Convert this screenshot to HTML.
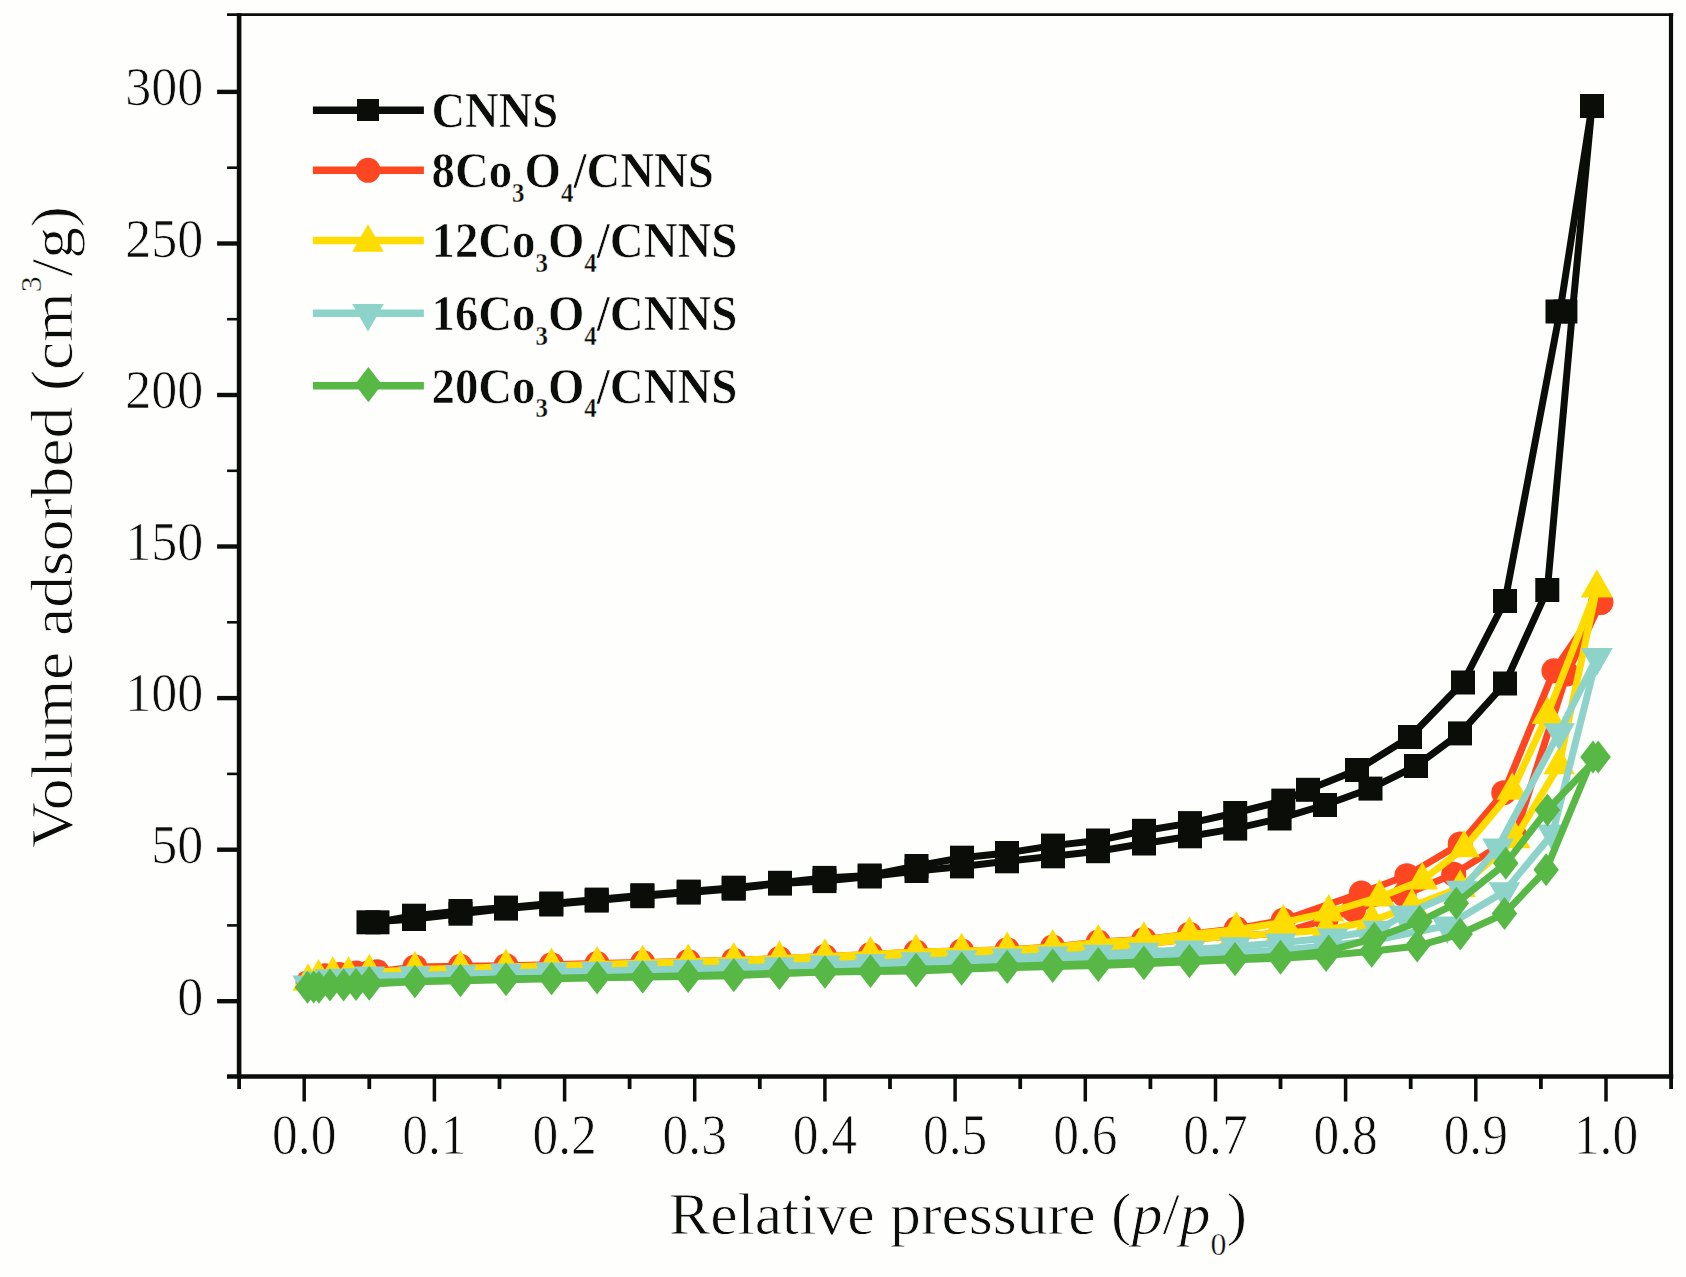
<!DOCTYPE html>
<html><head><meta charset="utf-8"><title>Isotherms</title>
<style>
html,body{margin:0;padding:0;background:#fefefd;}
svg{display:block}
.tk{font-family:'Liberation Serif','Times New Roman',serif;font-size:50px;fill:#0b0d09;stroke:#fefefd;stroke-width:0.7px}
.ti{font-family:'Liberation Serif','Times New Roman',serif;font-size:60px;fill:#0b0d09;stroke:#fefefd;stroke-width:0.8px}
.lg{font-family:'Liberation Serif','Times New Roman',serif;font-size:47px;font-weight:bold;fill:#0b0d09;stroke:#fefefd;stroke-width:0.6px}
.sb{font-size:25px;stroke-width:0.3px}
</style></head><body>
<svg width="1686" height="1277" viewBox="0 0 1686 1277">
<rect width="1686" height="1277" fill="#fefefd"/>
<g id="data">
<polyline points="368.5,922.3 414.0,919.0 460.5,913.7 506.0,908.6 551.3,904.5 596.7,900.6 642.4,896.2 688.7,892.6 733.7,888.7 780.0,883.6 824.5,881.1 869.7,876.5 916.5,871.0 962.0,866.4 1007.0,861.3 1053.0,856.3 1098.0,851.2 1144.0,843.5 1190.0,836.3 1235.2,828.6 1279.6,818.5 1325.0,805.0 1370.5,788.6 1416.0,766.0 1460.0,733.4 1505.0,683.5 1547.3,590.0 1572.5,311.0 1592.0,106.0" fill="none" stroke="#0b0d09" stroke-width="7.0" stroke-linejoin="miter" stroke-miterlimit="3"/>
<rect x="356.5" y="910.3" width="24" height="24" fill="#0b0d09"/>
<rect x="402.0" y="907.0" width="24" height="24" fill="#0b0d09"/>
<rect x="448.5" y="901.7" width="24" height="24" fill="#0b0d09"/>
<rect x="494.0" y="896.6" width="24" height="24" fill="#0b0d09"/>
<rect x="539.3" y="892.5" width="24" height="24" fill="#0b0d09"/>
<rect x="584.7" y="888.6" width="24" height="24" fill="#0b0d09"/>
<rect x="630.4" y="884.2" width="24" height="24" fill="#0b0d09"/>
<rect x="676.7" y="880.6" width="24" height="24" fill="#0b0d09"/>
<rect x="721.7" y="876.7" width="24" height="24" fill="#0b0d09"/>
<rect x="768.0" y="871.6" width="24" height="24" fill="#0b0d09"/>
<rect x="812.5" y="869.1" width="24" height="24" fill="#0b0d09"/>
<rect x="857.7" y="864.5" width="24" height="24" fill="#0b0d09"/>
<rect x="904.5" y="859.0" width="24" height="24" fill="#0b0d09"/>
<rect x="950.0" y="854.4" width="24" height="24" fill="#0b0d09"/>
<rect x="995.0" y="849.3" width="24" height="24" fill="#0b0d09"/>
<rect x="1041.0" y="844.3" width="24" height="24" fill="#0b0d09"/>
<rect x="1086.0" y="839.2" width="24" height="24" fill="#0b0d09"/>
<rect x="1132.0" y="831.5" width="24" height="24" fill="#0b0d09"/>
<rect x="1178.0" y="824.3" width="24" height="24" fill="#0b0d09"/>
<rect x="1223.2" y="816.6" width="24" height="24" fill="#0b0d09"/>
<rect x="1267.6" y="806.5" width="24" height="24" fill="#0b0d09"/>
<rect x="1313.0" y="793.0" width="24" height="24" fill="#0b0d09"/>
<rect x="1358.5" y="776.6" width="24" height="24" fill="#0b0d09"/>
<rect x="1404.0" y="754.0" width="24" height="24" fill="#0b0d09"/>
<rect x="1448.0" y="721.4" width="24" height="24" fill="#0b0d09"/>
<rect x="1493.0" y="671.5" width="24" height="24" fill="#0b0d09"/>
<rect x="1535.3" y="578.0" width="24" height="24" fill="#0b0d09"/>
<rect x="1553.4" y="299.5" width="24" height="24" fill="#0b0d09"/>
<rect x="1580.0" y="94.0" width="24" height="24" fill="#0b0d09"/>
<polyline points="1592.0,106.0 1560.0,311.0 1505.0,601.0 1463.0,682.5 1410.0,737.0 1357.0,770.0 1308.0,789.8 1283.3,800.6 1235.2,813.0 1190.0,823.1 1144.0,830.8 1098.0,840.5 1053.0,845.6 1007.0,853.0 962.0,857.7 916.5,866.0 869.7,875.5 824.5,877.9 780.0,882.8 733.7,887.7 688.7,891.6 642.4,895.2 596.7,899.6 551.3,903.5 506.0,907.6 460.5,911.0 414.0,915.7 377.5,922.3" fill="none" stroke="#0b0d09" stroke-width="7.0" stroke-linejoin="miter" stroke-miterlimit="3"/>
<rect x="1580.0" y="94.0" width="24" height="24" fill="#0b0d09"/>
<rect x="1545.5" y="299.5" width="24" height="24" fill="#0b0d09"/>
<rect x="1493.0" y="589.0" width="24" height="24" fill="#0b0d09"/>
<rect x="1451.0" y="670.5" width="24" height="24" fill="#0b0d09"/>
<rect x="1398.0" y="725.0" width="24" height="24" fill="#0b0d09"/>
<rect x="1345.0" y="758.0" width="24" height="24" fill="#0b0d09"/>
<rect x="1296.0" y="777.8" width="24" height="24" fill="#0b0d09"/>
<rect x="1271.3" y="788.6" width="24" height="24" fill="#0b0d09"/>
<rect x="1223.2" y="801.0" width="24" height="24" fill="#0b0d09"/>
<rect x="1178.0" y="811.1" width="24" height="24" fill="#0b0d09"/>
<rect x="1132.0" y="818.8" width="24" height="24" fill="#0b0d09"/>
<rect x="1086.0" y="828.5" width="24" height="24" fill="#0b0d09"/>
<rect x="1041.0" y="833.6" width="24" height="24" fill="#0b0d09"/>
<rect x="995.0" y="841.0" width="24" height="24" fill="#0b0d09"/>
<rect x="950.0" y="845.7" width="24" height="24" fill="#0b0d09"/>
<rect x="904.5" y="854.0" width="24" height="24" fill="#0b0d09"/>
<rect x="857.7" y="863.5" width="24" height="24" fill="#0b0d09"/>
<rect x="812.5" y="865.9" width="24" height="24" fill="#0b0d09"/>
<rect x="768.0" y="870.8" width="24" height="24" fill="#0b0d09"/>
<rect x="721.7" y="875.7" width="24" height="24" fill="#0b0d09"/>
<rect x="676.7" y="879.6" width="24" height="24" fill="#0b0d09"/>
<rect x="630.4" y="883.2" width="24" height="24" fill="#0b0d09"/>
<rect x="584.7" y="887.6" width="24" height="24" fill="#0b0d09"/>
<rect x="539.3" y="891.5" width="24" height="24" fill="#0b0d09"/>
<rect x="494.0" y="895.6" width="24" height="24" fill="#0b0d09"/>
<rect x="448.5" y="899.0" width="24" height="24" fill="#0b0d09"/>
<rect x="402.0" y="903.7" width="24" height="24" fill="#0b0d09"/>
<rect x="365.5" y="910.3" width="24" height="24" fill="#0b0d09"/>
<polyline points="308.1,982.4 325.0,975.7 339.3,974.5 356.3,973.0 369.3,972.4 414.9,972.1 460.4,971.8 506.0,971.5 551.5,970.5 597.1,969.5 642.7,968.5 688.2,967.4 733.8,966.3 779.4,964.6 824.9,962.7 870.5,960.7 916.0,958.7 961.6,956.5 1007.2,954.2 1052.7,951.6 1098.3,948.8 1143.9,944.1 1189.4,939.1 1235.0,936.2 1280.5,933.3 1326.1,919.5 1353.5,910.0 1404.2,894.8 1453.7,874.2 1514.9,836.0 1566.9,673.9 1600.8,602.3" fill="none" stroke="#ff4623" stroke-width="7.0" stroke-linejoin="miter" stroke-miterlimit="3"/>
<circle cx="308.1" cy="982.4" r="12.5" fill="#ff4623"/>
<circle cx="325.0" cy="975.7" r="12.5" fill="#ff4623"/>
<circle cx="339.3" cy="974.5" r="12.5" fill="#ff4623"/>
<circle cx="356.3" cy="973.0" r="12.5" fill="#ff4623"/>
<circle cx="369.3" cy="972.4" r="12.5" fill="#ff4623"/>
<circle cx="414.9" cy="972.1" r="12.5" fill="#ff4623"/>
<circle cx="460.4" cy="971.8" r="12.5" fill="#ff4623"/>
<circle cx="506.0" cy="971.5" r="12.5" fill="#ff4623"/>
<circle cx="551.5" cy="970.5" r="12.5" fill="#ff4623"/>
<circle cx="597.1" cy="969.5" r="12.5" fill="#ff4623"/>
<circle cx="642.7" cy="968.5" r="12.5" fill="#ff4623"/>
<circle cx="688.2" cy="967.4" r="12.5" fill="#ff4623"/>
<circle cx="733.8" cy="966.3" r="12.5" fill="#ff4623"/>
<circle cx="779.4" cy="964.6" r="12.5" fill="#ff4623"/>
<circle cx="824.9" cy="962.7" r="12.5" fill="#ff4623"/>
<circle cx="870.5" cy="960.7" r="12.5" fill="#ff4623"/>
<circle cx="916.0" cy="958.7" r="12.5" fill="#ff4623"/>
<circle cx="961.6" cy="956.5" r="12.5" fill="#ff4623"/>
<circle cx="1007.2" cy="954.2" r="12.5" fill="#ff4623"/>
<circle cx="1052.7" cy="951.6" r="12.5" fill="#ff4623"/>
<circle cx="1098.3" cy="948.8" r="12.5" fill="#ff4623"/>
<circle cx="1143.9" cy="944.1" r="12.5" fill="#ff4623"/>
<circle cx="1189.4" cy="939.1" r="12.5" fill="#ff4623"/>
<circle cx="1235.0" cy="936.2" r="12.5" fill="#ff4623"/>
<circle cx="1280.5" cy="933.3" r="12.5" fill="#ff4623"/>
<circle cx="1326.1" cy="919.5" r="12.5" fill="#ff4623"/>
<circle cx="1353.5" cy="910.0" r="12.5" fill="#ff4623"/>
<circle cx="1404.2" cy="894.8" r="12.5" fill="#ff4623"/>
<circle cx="1453.7" cy="874.2" r="12.5" fill="#ff4623"/>
<circle cx="1514.9" cy="836.0" r="12.5" fill="#ff4623"/>
<circle cx="1566.9" cy="673.9" r="12.5" fill="#ff4623"/>
<circle cx="1600.8" cy="602.3" r="12.5" fill="#ff4623"/>
<polyline points="1600.8,602.3 1553.9,670.8 1503.8,792.7 1460.2,843.9 1406.8,875.7 1361.3,893.0 1283.2,920.3 1236.3,928.8 1189.4,934.2 1143.9,939.4 1098.3,942.1 1052.7,946.9 1007.2,949.7 961.6,950.9 916.0,952.1 870.5,954.4 824.9,956.6 779.4,958.6 733.8,960.2 688.2,961.4 642.7,962.5 597.1,963.6 551.5,964.7 506.0,965.7 460.4,966.3 414.9,966.9 377.1,971.8" fill="none" stroke="#ff4623" stroke-width="7.0" stroke-linejoin="miter" stroke-miterlimit="3"/>
<circle cx="1600.8" cy="602.3" r="12.5" fill="#ff4623"/>
<circle cx="1553.9" cy="670.8" r="12.5" fill="#ff4623"/>
<circle cx="1503.8" cy="792.7" r="12.5" fill="#ff4623"/>
<circle cx="1460.2" cy="843.9" r="12.5" fill="#ff4623"/>
<circle cx="1406.8" cy="875.7" r="12.5" fill="#ff4623"/>
<circle cx="1361.3" cy="893.0" r="12.5" fill="#ff4623"/>
<circle cx="1283.2" cy="920.3" r="12.5" fill="#ff4623"/>
<circle cx="1236.3" cy="928.8" r="12.5" fill="#ff4623"/>
<circle cx="1189.4" cy="934.2" r="12.5" fill="#ff4623"/>
<circle cx="1143.9" cy="939.4" r="12.5" fill="#ff4623"/>
<circle cx="1098.3" cy="942.1" r="12.5" fill="#ff4623"/>
<circle cx="1052.7" cy="946.9" r="12.5" fill="#ff4623"/>
<circle cx="1007.2" cy="949.7" r="12.5" fill="#ff4623"/>
<circle cx="961.6" cy="950.9" r="12.5" fill="#ff4623"/>
<circle cx="916.0" cy="952.1" r="12.5" fill="#ff4623"/>
<circle cx="870.5" cy="954.4" r="12.5" fill="#ff4623"/>
<circle cx="824.9" cy="956.6" r="12.5" fill="#ff4623"/>
<circle cx="779.4" cy="958.6" r="12.5" fill="#ff4623"/>
<circle cx="733.8" cy="960.2" r="12.5" fill="#ff4623"/>
<circle cx="688.2" cy="961.4" r="12.5" fill="#ff4623"/>
<circle cx="642.7" cy="962.5" r="12.5" fill="#ff4623"/>
<circle cx="597.1" cy="963.6" r="12.5" fill="#ff4623"/>
<circle cx="551.5" cy="964.7" r="12.5" fill="#ff4623"/>
<circle cx="506.0" cy="965.7" r="12.5" fill="#ff4623"/>
<circle cx="460.4" cy="966.3" r="12.5" fill="#ff4623"/>
<circle cx="414.9" cy="966.9" r="12.5" fill="#ff4623"/>
<circle cx="377.1" cy="971.8" r="12.5" fill="#ff4623"/>
<polyline points="308.1,981.5 318.5,977.3 332.8,974.5 348.5,974.5 369.3,972.4 414.9,972.1 460.4,971.8 506.0,971.5 551.5,970.5 597.1,969.5 642.7,968.5 688.2,967.4 733.8,966.3 779.4,964.5 824.9,962.7 870.5,960.7 916.0,958.6 961.6,956.5 1007.2,954.2 1052.7,951.6 1098.3,948.8 1143.9,944.1 1189.4,939.1 1235.0,936.2 1280.5,933.3 1326.1,930.0 1371.7,920.9 1412.0,906.3 1460.2,887.8 1514.9,839.0 1559.1,765.1 1596.9,588.1" fill="none" stroke="#ffdc00" stroke-width="7.0" stroke-linejoin="miter" stroke-miterlimit="3"/>
<polygon points="308.1,963.2 323.9,990.7 292.4,990.7" fill="#ffdc00"/>
<polygon points="318.5,958.9 334.3,986.4 302.8,986.4" fill="#ffdc00"/>
<polygon points="332.8,956.2 348.6,983.7 317.1,983.7" fill="#ffdc00"/>
<polygon points="348.5,956.2 364.2,983.7 332.7,983.7" fill="#ffdc00"/>
<polygon points="369.3,954.1 385.0,981.6 353.5,981.6" fill="#ffdc00"/>
<polygon points="414.9,953.8 430.6,981.3 399.1,981.3" fill="#ffdc00"/>
<polygon points="460.4,953.5 476.2,981.0 444.7,981.0" fill="#ffdc00"/>
<polygon points="506.0,953.2 521.7,980.7 490.2,980.7" fill="#ffdc00"/>
<polygon points="551.5,952.2 567.3,979.7 535.8,979.7" fill="#ffdc00"/>
<polygon points="597.1,951.2 612.9,978.7 581.4,978.7" fill="#ffdc00"/>
<polygon points="642.7,950.2 658.4,977.7 626.9,977.7" fill="#ffdc00"/>
<polygon points="688.2,949.1 704.0,976.6 672.5,976.6" fill="#ffdc00"/>
<polygon points="733.8,948.0 749.5,975.5 718.0,975.5" fill="#ffdc00"/>
<polygon points="779.4,946.2 795.1,973.7 763.6,973.7" fill="#ffdc00"/>
<polygon points="824.9,944.3 840.7,971.8 809.2,971.8" fill="#ffdc00"/>
<polygon points="870.5,942.4 886.2,969.9 854.7,969.9" fill="#ffdc00"/>
<polygon points="916.0,940.3 931.8,967.8 900.3,967.8" fill="#ffdc00"/>
<polygon points="961.6,938.1 977.4,965.6 945.9,965.6" fill="#ffdc00"/>
<polygon points="1007.2,935.9 1022.9,963.4 991.4,963.4" fill="#ffdc00"/>
<polygon points="1052.7,933.2 1068.5,960.7 1037.0,960.7" fill="#ffdc00"/>
<polygon points="1098.3,930.4 1114.0,957.9 1082.5,957.9" fill="#ffdc00"/>
<polygon points="1143.9,925.8 1159.6,953.3 1128.1,953.3" fill="#ffdc00"/>
<polygon points="1189.4,920.7 1205.2,948.2 1173.7,948.2" fill="#ffdc00"/>
<polygon points="1235.0,917.9 1250.7,945.4 1219.2,945.4" fill="#ffdc00"/>
<polygon points="1280.5,915.0 1296.3,942.5 1264.8,942.5" fill="#ffdc00"/>
<polygon points="1326.1,911.6 1341.9,939.1 1310.4,939.1" fill="#ffdc00"/>
<polygon points="1371.7,902.5 1387.4,930.0 1355.9,930.0" fill="#ffdc00"/>
<polygon points="1412.0,888.0 1427.8,915.5 1396.3,915.5" fill="#ffdc00"/>
<polygon points="1460.2,869.5 1475.9,897.0 1444.4,897.0" fill="#ffdc00"/>
<polygon points="1514.9,820.7 1530.6,848.2 1499.1,848.2" fill="#ffdc00"/>
<polygon points="1559.1,746.8 1574.9,774.3 1543.4,774.3" fill="#ffdc00"/>
<polygon points="1596.9,569.7 1612.6,597.2 1581.1,597.2" fill="#ffdc00"/>
<polyline points="1596.9,588.1 1547.4,714.8 1512.3,790.5 1464.1,848.1 1422.4,880.3 1379.5,897.2 1328.7,912.4 1283.2,922.4 1236.3,929.7 1189.4,934.5 1143.9,939.7 1098.3,942.4 1052.7,947.2 1007.2,950.0 961.6,951.0 916.0,952.1 870.5,954.4 824.9,956.6 779.4,958.6 733.8,960.3 688.2,961.7 642.7,963.1 597.1,964.4 551.5,965.7 506.0,966.9 460.4,968.2 414.9,969.4 369.3,972.4" fill="none" stroke="#ffdc00" stroke-width="7.0" stroke-linejoin="miter" stroke-miterlimit="3"/>
<polygon points="1596.9,569.7 1612.6,597.2 1581.1,597.2" fill="#ffdc00"/>
<polygon points="1547.4,696.4 1563.2,723.9 1531.7,723.9" fill="#ffdc00"/>
<polygon points="1512.3,772.2 1528.0,799.7 1496.5,799.7" fill="#ffdc00"/>
<polygon points="1464.1,829.8 1479.9,857.3 1448.4,857.3" fill="#ffdc00"/>
<polygon points="1422.4,861.9 1438.2,889.4 1406.7,889.4" fill="#ffdc00"/>
<polygon points="1379.5,878.9 1395.2,906.4 1363.7,906.4" fill="#ffdc00"/>
<polygon points="1328.7,894.1 1344.5,921.6 1313.0,921.6" fill="#ffdc00"/>
<polygon points="1283.2,904.1 1298.9,931.6 1267.4,931.6" fill="#ffdc00"/>
<polygon points="1236.3,911.3 1252.0,938.8 1220.5,938.8" fill="#ffdc00"/>
<polygon points="1189.4,916.2 1205.2,943.7 1173.7,943.7" fill="#ffdc00"/>
<polygon points="1143.9,921.3 1159.6,948.8 1128.1,948.8" fill="#ffdc00"/>
<polygon points="1098.3,924.1 1114.0,951.6 1082.5,951.6" fill="#ffdc00"/>
<polygon points="1052.7,928.9 1068.5,956.4 1037.0,956.4" fill="#ffdc00"/>
<polygon points="1007.2,931.6 1022.9,959.1 991.4,959.1" fill="#ffdc00"/>
<polygon points="961.6,932.7 977.4,960.2 945.9,960.2" fill="#ffdc00"/>
<polygon points="916.0,933.8 931.8,961.3 900.3,961.3" fill="#ffdc00"/>
<polygon points="870.5,936.1 886.2,963.6 854.7,963.6" fill="#ffdc00"/>
<polygon points="824.9,938.3 840.7,965.8 809.2,965.8" fill="#ffdc00"/>
<polygon points="779.4,940.3 795.1,967.8 763.6,967.8" fill="#ffdc00"/>
<polygon points="733.8,942.0 749.5,969.5 718.0,969.5" fill="#ffdc00"/>
<polygon points="688.2,943.4 704.0,970.9 672.5,970.9" fill="#ffdc00"/>
<polygon points="642.7,944.8 658.4,972.3 626.9,972.3" fill="#ffdc00"/>
<polygon points="597.1,946.1 612.9,973.6 581.4,973.6" fill="#ffdc00"/>
<polygon points="551.5,947.4 567.3,974.9 535.8,974.9" fill="#ffdc00"/>
<polygon points="506.0,948.6 521.7,976.1 490.2,976.1" fill="#ffdc00"/>
<polygon points="460.4,949.8 476.2,977.3 444.7,977.3" fill="#ffdc00"/>
<polygon points="414.9,951.0 430.6,978.5 399.1,978.5" fill="#ffdc00"/>
<polygon points="369.3,954.1 385.0,981.6 353.5,981.6" fill="#ffdc00"/>
<polyline points="308.1,984.5 318.5,980.6 330.2,978.5 343.3,978.0 356.3,977.5 369.3,977.0 414.9,976.2 460.4,975.4 506.0,974.5 551.5,974.0 597.1,973.5 642.7,972.9 688.2,972.4 733.8,971.8 779.4,970.4 824.9,969.0 870.5,967.5 916.0,965.9 961.6,964.2 1007.2,962.4 1052.7,960.8 1098.3,959.1 1143.9,957.0 1189.4,954.8 1235.0,952.6 1280.5,950.3 1326.1,946.1 1371.7,940.7 1447.2,925.7 1504.5,891.5 1552.6,833.6 1596.9,657.2" fill="none" stroke="#8dd3c9" stroke-width="7.0" stroke-linejoin="miter" stroke-miterlimit="3"/>
<polygon points="292.4,975.4 323.9,975.4 308.1,1002.9" fill="#8dd3c9"/>
<polygon points="302.8,971.4 334.3,971.4 318.5,998.9" fill="#8dd3c9"/>
<polygon points="314.5,969.3 346.0,969.3 330.2,996.8" fill="#8dd3c9"/>
<polygon points="327.5,968.8 359.0,968.8 343.3,996.3" fill="#8dd3c9"/>
<polygon points="340.5,968.3 372.0,968.3 356.3,995.8" fill="#8dd3c9"/>
<polygon points="353.5,967.8 385.0,967.8 369.3,995.3" fill="#8dd3c9"/>
<polygon points="399.1,967.0 430.6,967.0 414.9,994.5" fill="#8dd3c9"/>
<polygon points="444.7,966.2 476.2,966.2 460.4,993.7" fill="#8dd3c9"/>
<polygon points="490.2,965.4 521.7,965.4 506.0,992.9" fill="#8dd3c9"/>
<polygon points="535.8,964.8 567.3,964.8 551.5,992.3" fill="#8dd3c9"/>
<polygon points="581.4,964.3 612.9,964.3 597.1,991.8" fill="#8dd3c9"/>
<polygon points="626.9,963.8 658.4,963.8 642.7,991.3" fill="#8dd3c9"/>
<polygon points="672.5,963.2 704.0,963.2 688.2,990.7" fill="#8dd3c9"/>
<polygon points="718.0,962.6 749.5,962.6 733.8,990.1" fill="#8dd3c9"/>
<polygon points="763.6,961.3 795.1,961.3 779.4,988.8" fill="#8dd3c9"/>
<polygon points="809.2,959.8 840.7,959.8 824.9,987.3" fill="#8dd3c9"/>
<polygon points="854.7,958.3 886.2,958.3 870.5,985.8" fill="#8dd3c9"/>
<polygon points="900.3,956.7 931.8,956.7 916.0,984.2" fill="#8dd3c9"/>
<polygon points="945.9,955.0 977.4,955.0 961.6,982.5" fill="#8dd3c9"/>
<polygon points="991.4,953.2 1022.9,953.2 1007.2,980.7" fill="#8dd3c9"/>
<polygon points="1037.0,951.6 1068.5,951.6 1052.7,979.1" fill="#8dd3c9"/>
<polygon points="1082.5,949.9 1114.0,949.9 1098.3,977.4" fill="#8dd3c9"/>
<polygon points="1128.1,947.8 1159.6,947.8 1143.9,975.3" fill="#8dd3c9"/>
<polygon points="1173.7,945.7 1205.2,945.7 1189.4,973.2" fill="#8dd3c9"/>
<polygon points="1219.2,943.4 1250.7,943.4 1235.0,970.9" fill="#8dd3c9"/>
<polygon points="1264.8,941.1 1296.3,941.1 1280.5,968.6" fill="#8dd3c9"/>
<polygon points="1310.4,936.9 1341.9,936.9 1326.1,964.4" fill="#8dd3c9"/>
<polygon points="1355.9,931.6 1387.4,931.6 1371.7,959.1" fill="#8dd3c9"/>
<polygon points="1431.4,916.6 1462.9,916.6 1447.2,944.1" fill="#8dd3c9"/>
<polygon points="1488.7,882.3 1520.2,882.3 1504.5,909.8" fill="#8dd3c9"/>
<polygon points="1536.9,824.4 1568.4,824.4 1552.6,851.9" fill="#8dd3c9"/>
<polygon points="1581.1,648.0 1612.6,648.0 1596.9,675.5" fill="#8dd3c9"/>
<polyline points="1596.9,657.2 1559.1,732.4 1498.0,847.5 1461.5,890.0 1404.2,914.8 1378.2,930.0 1332.6,937.5 1280.5,942.7 1235.0,946.5 1189.4,949.7 1143.9,951.8 1098.3,953.9 1052.7,955.8 1007.2,957.6 961.6,959.5 916.0,961.3 870.5,963.1 824.9,964.8 779.4,966.4 733.8,967.9 688.2,968.9 642.7,969.9 597.1,970.9 551.5,971.8 506.0,972.7 460.4,974.1 414.9,975.4 369.3,975.7" fill="none" stroke="#8dd3c9" stroke-width="7.0" stroke-linejoin="miter" stroke-miterlimit="3"/>
<polygon points="1581.1,648.0 1612.6,648.0 1596.9,675.5" fill="#8dd3c9"/>
<polygon points="1543.4,723.2 1574.9,723.2 1559.1,750.7" fill="#8dd3c9"/>
<polygon points="1482.2,838.4 1513.7,838.4 1498.0,865.9" fill="#8dd3c9"/>
<polygon points="1445.8,880.8 1477.3,880.8 1461.5,908.3" fill="#8dd3c9"/>
<polygon points="1388.5,905.6 1420.0,905.6 1404.2,933.1" fill="#8dd3c9"/>
<polygon points="1362.4,920.8 1393.9,920.8 1378.2,948.3" fill="#8dd3c9"/>
<polygon points="1316.9,928.4 1348.4,928.4 1332.6,955.9" fill="#8dd3c9"/>
<polygon points="1264.8,933.5 1296.3,933.5 1280.5,961.0" fill="#8dd3c9"/>
<polygon points="1219.2,937.3 1250.7,937.3 1235.0,964.8" fill="#8dd3c9"/>
<polygon points="1173.7,940.5 1205.2,940.5 1189.4,968.0" fill="#8dd3c9"/>
<polygon points="1128.1,942.7 1159.6,942.7 1143.9,970.2" fill="#8dd3c9"/>
<polygon points="1082.5,944.7 1114.0,944.7 1098.3,972.2" fill="#8dd3c9"/>
<polygon points="1037.0,946.6 1068.5,946.6 1052.7,974.1" fill="#8dd3c9"/>
<polygon points="991.4,948.4 1022.9,948.4 1007.2,975.9" fill="#8dd3c9"/>
<polygon points="945.9,950.3 977.4,950.3 961.6,977.8" fill="#8dd3c9"/>
<polygon points="900.3,952.2 931.8,952.2 916.0,979.7" fill="#8dd3c9"/>
<polygon points="854.7,953.9 886.2,953.9 870.5,981.4" fill="#8dd3c9"/>
<polygon points="809.2,955.6 840.7,955.6 824.9,983.1" fill="#8dd3c9"/>
<polygon points="763.6,957.2 795.1,957.2 779.4,984.7" fill="#8dd3c9"/>
<polygon points="718.0,958.7 749.5,958.7 733.8,986.2" fill="#8dd3c9"/>
<polygon points="672.5,959.7 704.0,959.7 688.2,987.2" fill="#8dd3c9"/>
<polygon points="626.9,960.7 658.4,960.7 642.7,988.2" fill="#8dd3c9"/>
<polygon points="581.4,961.7 612.9,961.7 597.1,989.2" fill="#8dd3c9"/>
<polygon points="535.8,962.6 567.3,962.6 551.5,990.1" fill="#8dd3c9"/>
<polygon points="490.2,963.5 521.7,963.5 506.0,991.0" fill="#8dd3c9"/>
<polygon points="444.7,964.9 476.2,964.9 460.4,992.4" fill="#8dd3c9"/>
<polygon points="399.1,966.3 430.6,966.3 414.9,993.8" fill="#8dd3c9"/>
<polygon points="353.5,966.6 385.0,966.6 369.3,994.1" fill="#8dd3c9"/>
<polyline points="307.5,987.3 313.7,987.0 318.9,987.3 330.0,985.1 343.6,985.1 356.0,984.5 369.3,984.2 414.9,981.5 460.4,980.2 506.0,978.8 551.5,978.2 597.1,977.6 642.7,977.0 688.2,976.4 733.8,975.7 779.4,973.6 824.9,972.1 870.5,971.5 916.0,970.9 961.6,969.3 1007.2,967.6 1052.7,966.5 1098.3,965.4 1143.9,963.7 1189.4,961.8 1235.0,959.7 1280.5,958.2 1326.1,955.4 1371.7,951.2 1417.2,946.0 1460.2,933.9 1504.5,913.6 1546.1,869.7 1593.0,756.9" fill="none" stroke="#57b846" stroke-width="7.0" stroke-linejoin="miter" stroke-miterlimit="3"/>
<polygon points="307.5,970.8 320.2,987.3 307.5,1003.8 294.7,987.3" fill="#57b846"/>
<polygon points="313.7,970.5 326.5,987.0 313.7,1003.5 301.0,987.0" fill="#57b846"/>
<polygon points="318.9,970.8 331.7,987.3 318.9,1003.8 306.2,987.3" fill="#57b846"/>
<polygon points="330.0,968.6 342.7,985.1 330.0,1001.6 317.2,985.1" fill="#57b846"/>
<polygon points="343.6,968.6 356.4,985.1 343.6,1001.6 330.9,985.1" fill="#57b846"/>
<polygon points="356.0,968.0 368.8,984.5 356.0,1001.0 343.3,984.5" fill="#57b846"/>
<polygon points="369.3,967.7 382.0,984.2 369.3,1000.7 356.5,984.2" fill="#57b846"/>
<polygon points="414.9,965.0 427.6,981.5 414.9,998.0 402.1,981.5" fill="#57b846"/>
<polygon points="460.4,963.7 473.2,980.2 460.4,996.7 447.7,980.2" fill="#57b846"/>
<polygon points="506.0,962.3 518.7,978.8 506.0,995.3 493.2,978.8" fill="#57b846"/>
<polygon points="551.5,961.7 564.3,978.2 551.5,994.7 538.8,978.2" fill="#57b846"/>
<polygon points="597.1,961.1 609.9,977.6 597.1,994.1 584.4,977.6" fill="#57b846"/>
<polygon points="642.7,960.5 655.4,977.0 642.7,993.5 629.9,977.0" fill="#57b846"/>
<polygon points="688.2,959.9 701.0,976.4 688.2,992.9 675.5,976.4" fill="#57b846"/>
<polygon points="733.8,959.2 746.5,975.7 733.8,992.2 721.0,975.7" fill="#57b846"/>
<polygon points="779.4,957.1 792.1,973.6 779.4,990.1 766.6,973.6" fill="#57b846"/>
<polygon points="824.9,955.6 837.7,972.1 824.9,988.6 812.2,972.1" fill="#57b846"/>
<polygon points="870.5,955.0 883.2,971.5 870.5,988.0 857.7,971.5" fill="#57b846"/>
<polygon points="916.0,954.4 928.8,970.9 916.0,987.4 903.3,970.9" fill="#57b846"/>
<polygon points="961.6,952.8 974.4,969.3 961.6,985.8 948.9,969.3" fill="#57b846"/>
<polygon points="1007.2,951.1 1019.9,967.6 1007.2,984.1 994.4,967.6" fill="#57b846"/>
<polygon points="1052.7,950.0 1065.5,966.5 1052.7,983.0 1040.0,966.5" fill="#57b846"/>
<polygon points="1098.3,948.9 1111.0,965.4 1098.3,981.9 1085.5,965.4" fill="#57b846"/>
<polygon points="1143.9,947.2 1156.6,963.7 1143.9,980.2 1131.1,963.7" fill="#57b846"/>
<polygon points="1189.4,945.3 1202.2,961.8 1189.4,978.3 1176.7,961.8" fill="#57b846"/>
<polygon points="1235.0,943.2 1247.7,959.7 1235.0,976.2 1222.2,959.7" fill="#57b846"/>
<polygon points="1280.5,941.7 1293.3,958.2 1280.5,974.7 1267.8,958.2" fill="#57b846"/>
<polygon points="1326.1,938.9 1338.9,955.4 1326.1,971.9 1313.4,955.4" fill="#57b846"/>
<polygon points="1371.7,934.7 1384.4,951.2 1371.7,967.7 1358.9,951.2" fill="#57b846"/>
<polygon points="1417.2,929.5 1430.0,946.0 1417.2,962.5 1404.5,946.0" fill="#57b846"/>
<polygon points="1460.2,917.4 1472.9,933.9 1460.2,950.4 1447.4,933.9" fill="#57b846"/>
<polygon points="1504.5,897.1 1517.2,913.6 1504.5,930.1 1491.7,913.6" fill="#57b846"/>
<polygon points="1546.1,853.2 1558.9,869.7 1546.1,886.2 1533.4,869.7" fill="#57b846"/>
<polygon points="1593.0,740.4 1605.7,756.9 1593.0,773.4 1580.2,756.9" fill="#57b846"/>
<polyline points="1598.2,756.9 1547.4,809.9 1505.8,863.3 1456.3,903.3 1419.8,921.5 1374.3,938.2 1328.7,950.9 1280.5,956.3 1235.0,958.5 1189.4,960.6 1143.9,962.1 1098.3,963.6 1052.7,965.0 1007.2,966.3 961.6,967.9 916.0,969.3 870.5,970.7 824.9,972.0 779.4,973.3 733.8,974.5 688.2,975.7 642.7,976.8 597.1,977.8 551.5,978.8 506.0,979.8 460.4,980.7 414.9,981.6 369.3,982.4" fill="none" stroke="#57b846" stroke-width="7.0" stroke-linejoin="miter" stroke-miterlimit="3"/>
<polygon points="1598.2,740.4 1610.9,756.9 1598.2,773.4 1585.4,756.9" fill="#57b846"/>
<polygon points="1547.4,793.4 1560.2,809.9 1547.4,826.4 1534.7,809.9" fill="#57b846"/>
<polygon points="1505.8,846.8 1518.5,863.3 1505.8,879.8 1493.0,863.3" fill="#57b846"/>
<polygon points="1456.3,886.8 1469.0,903.3 1456.3,919.8 1443.5,903.3" fill="#57b846"/>
<polygon points="1419.8,905.0 1432.6,921.5 1419.8,938.0 1407.1,921.5" fill="#57b846"/>
<polygon points="1374.3,921.7 1387.0,938.2 1374.3,954.7 1361.5,938.2" fill="#57b846"/>
<polygon points="1328.7,934.4 1341.5,950.9 1328.7,967.4 1316.0,950.9" fill="#57b846"/>
<polygon points="1280.5,939.8 1293.3,956.3 1280.5,972.8 1267.8,956.3" fill="#57b846"/>
<polygon points="1235.0,942.0 1247.7,958.5 1235.0,975.0 1222.2,958.5" fill="#57b846"/>
<polygon points="1189.4,944.1 1202.2,960.6 1189.4,977.1 1176.7,960.6" fill="#57b846"/>
<polygon points="1143.9,945.6 1156.6,962.1 1143.9,978.6 1131.1,962.1" fill="#57b846"/>
<polygon points="1098.3,947.1 1111.0,963.6 1098.3,980.1 1085.5,963.6" fill="#57b846"/>
<polygon points="1052.7,948.5 1065.5,965.0 1052.7,981.5 1040.0,965.0" fill="#57b846"/>
<polygon points="1007.2,949.8 1019.9,966.3 1007.2,982.8 994.4,966.3" fill="#57b846"/>
<polygon points="961.6,951.4 974.4,967.9 961.6,984.4 948.9,967.9" fill="#57b846"/>
<polygon points="916.0,952.8 928.8,969.3 916.0,985.8 903.3,969.3" fill="#57b846"/>
<polygon points="870.5,954.2 883.2,970.7 870.5,987.2 857.7,970.7" fill="#57b846"/>
<polygon points="824.9,955.5 837.7,972.0 824.9,988.5 812.2,972.0" fill="#57b846"/>
<polygon points="779.4,956.8 792.1,973.3 779.4,989.8 766.6,973.3" fill="#57b846"/>
<polygon points="733.8,958.0 746.5,974.5 733.8,991.0 721.0,974.5" fill="#57b846"/>
<polygon points="688.2,959.2 701.0,975.7 688.2,992.2 675.5,975.7" fill="#57b846"/>
<polygon points="642.7,960.3 655.4,976.8 642.7,993.3 629.9,976.8" fill="#57b846"/>
<polygon points="597.1,961.3 609.9,977.8 597.1,994.3 584.4,977.8" fill="#57b846"/>
<polygon points="551.5,962.3 564.3,978.8 551.5,995.3 538.8,978.8" fill="#57b846"/>
<polygon points="506.0,963.3 518.7,979.8 506.0,996.3 493.2,979.8" fill="#57b846"/>
<polygon points="460.4,964.2 473.2,980.7 460.4,997.2 447.7,980.7" fill="#57b846"/>
<polygon points="414.9,965.1 427.6,981.6 414.9,998.1 402.1,981.6" fill="#57b846"/>
<polygon points="369.3,965.9 382.0,982.4 369.3,998.9 356.5,982.4" fill="#57b846"/>
</g>
<g id="axes">
<line x1="239.1" y1="13.299999999999999" x2="239.1" y2="1078.8" stroke="#0b0d09" stroke-width="4.6"/>
<line x1="227" y1="1076.5" x2="1673.2" y2="1076.5" stroke="#0b0d09" stroke-width="4.6"/>
<line x1="227" y1="14.7" x2="1673.2" y2="14.7" stroke="#0b0d09" stroke-width="2.8"/>
<line x1="1671.0" y1="13.299999999999999" x2="1671.0" y2="1078.8" stroke="#0b0d09" stroke-width="4.2"/>
<line x1="217.1" y1="1001.2" x2="239.1" y2="1001.2" stroke="#0b0d09" stroke-width="4.4"/>
<line x1="227.1" y1="925.4" x2="239.1" y2="925.4" stroke="#0b0d09" stroke-width="2.6"/>
<line x1="217.1" y1="849.7" x2="239.1" y2="849.7" stroke="#0b0d09" stroke-width="4.4"/>
<line x1="227.1" y1="773.9" x2="239.1" y2="773.9" stroke="#0b0d09" stroke-width="2.6"/>
<line x1="217.1" y1="698.1" x2="239.1" y2="698.1" stroke="#0b0d09" stroke-width="4.4"/>
<line x1="227.1" y1="622.3" x2="239.1" y2="622.3" stroke="#0b0d09" stroke-width="2.6"/>
<line x1="217.1" y1="546.5" x2="239.1" y2="546.5" stroke="#0b0d09" stroke-width="4.4"/>
<line x1="227.1" y1="470.8" x2="239.1" y2="470.8" stroke="#0b0d09" stroke-width="2.6"/>
<line x1="217.1" y1="395.0" x2="239.1" y2="395.0" stroke="#0b0d09" stroke-width="4.4"/>
<line x1="227.1" y1="319.2" x2="239.1" y2="319.2" stroke="#0b0d09" stroke-width="2.6"/>
<line x1="217.1" y1="243.5" x2="239.1" y2="243.5" stroke="#0b0d09" stroke-width="4.4"/>
<line x1="227.1" y1="167.7" x2="239.1" y2="167.7" stroke="#0b0d09" stroke-width="2.6"/>
<line x1="217.1" y1="91.9" x2="239.1" y2="91.9" stroke="#0b0d09" stroke-width="4.4"/>
<line x1="239.1" y1="1076.5" x2="239.1" y2="1089.0" stroke="#0b0d09" stroke-width="3.8"/>
<line x1="304.2" y1="1076.5" x2="304.2" y2="1101.5" stroke="#0b0d09" stroke-width="3.5"/>
<line x1="369.3" y1="1076.5" x2="369.3" y2="1089.0" stroke="#0b0d09" stroke-width="3.8"/>
<line x1="434.4" y1="1076.5" x2="434.4" y2="1101.5" stroke="#0b0d09" stroke-width="3.5"/>
<line x1="499.5" y1="1076.5" x2="499.5" y2="1089.0" stroke="#0b0d09" stroke-width="3.8"/>
<line x1="564.6" y1="1076.5" x2="564.6" y2="1101.5" stroke="#0b0d09" stroke-width="3.5"/>
<line x1="629.6" y1="1076.5" x2="629.6" y2="1089.0" stroke="#0b0d09" stroke-width="3.8"/>
<line x1="694.7" y1="1076.5" x2="694.7" y2="1101.5" stroke="#0b0d09" stroke-width="3.5"/>
<line x1="759.8" y1="1076.5" x2="759.8" y2="1089.0" stroke="#0b0d09" stroke-width="3.8"/>
<line x1="824.9" y1="1076.5" x2="824.9" y2="1101.5" stroke="#0b0d09" stroke-width="3.5"/>
<line x1="890.0" y1="1076.5" x2="890.0" y2="1089.0" stroke="#0b0d09" stroke-width="3.8"/>
<line x1="955.1" y1="1076.5" x2="955.1" y2="1101.5" stroke="#0b0d09" stroke-width="3.5"/>
<line x1="1020.2" y1="1076.5" x2="1020.2" y2="1089.0" stroke="#0b0d09" stroke-width="3.8"/>
<line x1="1085.3" y1="1076.5" x2="1085.3" y2="1101.5" stroke="#0b0d09" stroke-width="3.5"/>
<line x1="1150.4" y1="1076.5" x2="1150.4" y2="1089.0" stroke="#0b0d09" stroke-width="3.8"/>
<line x1="1215.5" y1="1076.5" x2="1215.5" y2="1101.5" stroke="#0b0d09" stroke-width="3.5"/>
<line x1="1280.5" y1="1076.5" x2="1280.5" y2="1089.0" stroke="#0b0d09" stroke-width="3.8"/>
<line x1="1345.6" y1="1076.5" x2="1345.6" y2="1101.5" stroke="#0b0d09" stroke-width="3.5"/>
<line x1="1410.7" y1="1076.5" x2="1410.7" y2="1089.0" stroke="#0b0d09" stroke-width="3.8"/>
<line x1="1475.8" y1="1076.5" x2="1475.8" y2="1101.5" stroke="#0b0d09" stroke-width="3.5"/>
<line x1="1540.9" y1="1076.5" x2="1540.9" y2="1089.0" stroke="#0b0d09" stroke-width="3.8"/>
<line x1="1606.0" y1="1076.5" x2="1606.0" y2="1101.5" stroke="#0b0d09" stroke-width="3.5"/>
<line x1="1671.1" y1="1076.5" x2="1671.1" y2="1089.0" stroke="#0b0d09" stroke-width="3.8"/>
</g>
<g id="labels">
<text transform="translate(203.2,1014.7) scale(1,1.04)" text-anchor="end" class="tk" style="font-size:52px">0</text>
<text transform="translate(203.2,863.1) scale(1,1.04)" text-anchor="end" class="tk" style="font-size:52px">50</text>
<text transform="translate(203.2,711.4) scale(1,1.04)" text-anchor="end" class="tk" style="font-size:52px">100</text>
<text transform="translate(203.2,559.8) scale(1,1.04)" text-anchor="end" class="tk" style="font-size:52px">150</text>
<text transform="translate(203.2,408.2) scale(1,1.04)" text-anchor="end" class="tk" style="font-size:52px">200</text>
<text transform="translate(203.2,256.5) scale(1,1.04)" text-anchor="end" class="tk" style="font-size:52px">250</text>
<text transform="translate(203.2,104.9) scale(1,1.04)" text-anchor="end" class="tk" style="font-size:52px">300</text>
<text transform="translate(304.2,1153.8) scale(1.03,1.12)" text-anchor="middle" class="tk">0.0</text>
<text transform="translate(434.4,1153.8) scale(1.03,1.12)" text-anchor="middle" class="tk">0.1</text>
<text transform="translate(564.6,1153.8) scale(1.03,1.12)" text-anchor="middle" class="tk">0.2</text>
<text transform="translate(694.7,1153.8) scale(1.03,1.12)" text-anchor="middle" class="tk">0.3</text>
<text transform="translate(824.9,1153.8) scale(1.03,1.12)" text-anchor="middle" class="tk">0.4</text>
<text transform="translate(955.1,1153.8) scale(1.03,1.12)" text-anchor="middle" class="tk">0.5</text>
<text transform="translate(1085.3,1153.8) scale(1.03,1.12)" text-anchor="middle" class="tk">0.6</text>
<text transform="translate(1215.5,1153.8) scale(1.03,1.12)" text-anchor="middle" class="tk">0.7</text>
<text transform="translate(1345.6,1153.8) scale(1.03,1.12)" text-anchor="middle" class="tk">0.8</text>
<text transform="translate(1475.8,1153.8) scale(1.03,1.12)" text-anchor="middle" class="tk">0.9</text>
<text transform="translate(1606.0,1153.8) scale(1.03,1.12)" text-anchor="middle" class="tk">1.0</text>
<text x="669" y="1234" class="ti" textLength="578" lengthAdjust="spacingAndGlyphs">Relative pressure (<tspan font-style="italic">p</tspan>/<tspan font-style="italic">p</tspan><tspan font-size="31" dy="21" style="stroke-width:0.35px">0</tspan><tspan dy="-21">)</tspan></text>
<text transform="translate(72,848) rotate(-90)" x="0" y="0" class="ti" textLength="642" lengthAdjust="spacingAndGlyphs">Volume adsorbed (cm<tspan font-size="30" dy="-31" style="stroke-width:0.35px">3</tspan><tspan dy="31">/g)</tspan></text>
</g>
<g id="legend">
<line x1="312.9" y1="110.2" x2="423.9" y2="110.2" stroke="#0b0d09" stroke-width="7.5"/>
<rect x="357" y="99" width="22" height="22" fill="#0b0d09"/>
<text transform="translate(431.5,127.0) scale(0.99,1.06)" class="lg">CNNS</text>
<line x1="312.9" y1="170.3" x2="423.9" y2="170.3" stroke="#ff4623" stroke-width="7.5"/>
<circle cx="368.0" cy="170.3" r="12.5" fill="#ff4623"/>
<text transform="translate(431.5,187.1) scale(0.996,1.06)" class="lg">8Co<tspan class="sb" dy="14">3</tspan><tspan dy="-14">O</tspan><tspan class="sb" dy="14">4</tspan><tspan dy="-14">/CNNS</tspan></text>
<line x1="312.9" y1="240.5" x2="423.9" y2="240.5" stroke="#ffdc00" stroke-width="7.5"/>
<polygon points="368.0,224.2 383.8,251.7 352.2,251.7" fill="#ffdc00"/>
<text transform="translate(431.5,257.3) scale(0.996,1.06)" class="lg">12Co<tspan class="sb" dy="14">3</tspan><tspan dy="-14">O</tspan><tspan class="sb" dy="14">4</tspan><tspan dy="-14">/CNNS</tspan></text>
<line x1="312.9" y1="313.3" x2="423.9" y2="313.3" stroke="#8dd3c9" stroke-width="7.5"/>
<polygon points="352.2,304.1 383.8,304.1 368.0,331.6" fill="#8dd3c9"/>
<text transform="translate(431.5,330.1) scale(0.996,1.06)" class="lg">16Co<tspan class="sb" dy="14">3</tspan><tspan dy="-14">O</tspan><tspan class="sb" dy="14">4</tspan><tspan dy="-14">/CNNS</tspan></text>
<line x1="312.9" y1="385.8" x2="423.9" y2="385.8" stroke="#57b846" stroke-width="7.5"/>
<polygon points="368.4,367 381.9,384.6 368.4,402.2 354.9,384.6" fill="#57b846"/>
<text transform="translate(431.5,402.6) scale(0.996,1.06)" class="lg">20Co<tspan class="sb" dy="14">3</tspan><tspan dy="-14">O</tspan><tspan class="sb" dy="14">4</tspan><tspan dy="-14">/CNNS</tspan></text>
</g>
</svg>
</body></html>
